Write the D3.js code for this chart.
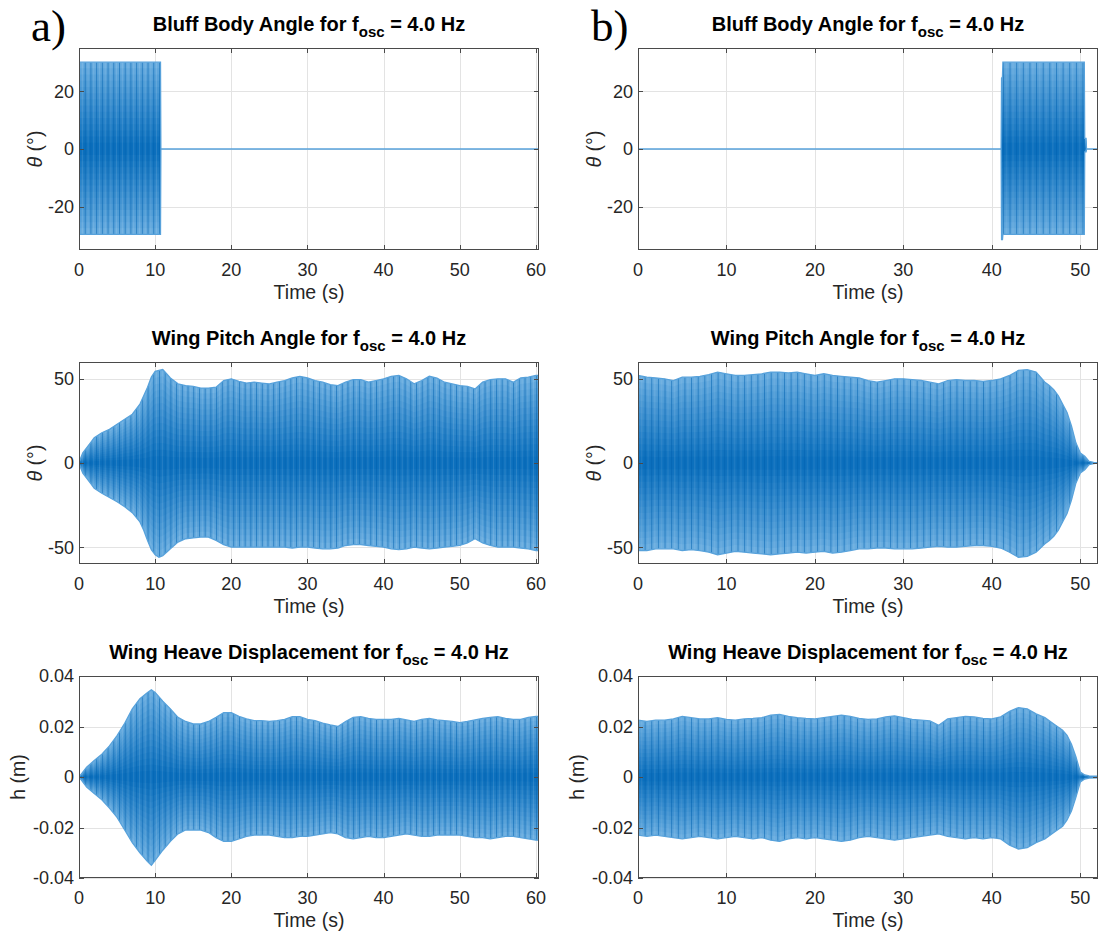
<!DOCTYPE html>
<html>
<head>
<meta charset="utf-8">
<script src="https://cdn.jsdelivr.net/npm/d3@7"></script>
<style>
  body { margin: 0; background: #ffffff; }
  svg { display: block; font-family: "Liberation Sans", Arial, Helvetica, sans-serif; }
</style>
</head>
<body>
<svg id="fig" width="1099" height="940"></svg>
<script>
// ---------------------------------------------------------------
// Response envelopes (upper / lower extremes of the 4.0 Hz signal)
// ---------------------------------------------------------------

// a) bluff body angle, oscillation switched off after ~10.7 s
const bluffTimeA  = [0, 10.7, 10.75, 60.4];
const bluffUpperA = [30.1, 30.1, 0, 0];
const bluffLowerA = [-29.6, -29.6, 0, 0];

// b) bluff body angle, oscillation switched on at ~41 s
const bluffTimeB  = [0, 41.05, 41.1, 41.2, 41.25, 50.45, 50.5, 50.65, 50.7, 52];
const bluffUpperB = [0, 0, 24.5, 25, 30.1, 30.1, 3.7, 3.7, 0, 0];
const bluffLowerB = [0, 0, -31.4, -31.4, -29.6, -29.6, -1, -1, 0, 0];

// a) wing pitch angle (deg)
const pitchTimeA = [0, 0.5, 1, 1.5, 2, 3, 4, 5, 6, 7, 8, 8.5, 9, 9.5, 10, 10.5, 11, 11.5, 12, 13, 14, 15, 16, 17, 18, 19, 20,
  21, 22, 23, 24, 25, 26, 27, 28, 29, 30, 31, 32, 33, 34, 35, 36, 37, 38, 39, 40, 41, 42, 43, 44, 45, 46, 47, 48, 49, 50,
  51, 52, 53, 54, 55, 56, 57, 58, 59, 60, 60.4];
const pitchUpperA = [0.5, 6, 9, 12, 15, 18, 20, 23, 26, 29, 35, 40, 45, 51, 54.5, 55, 55.5, 53, 50.5, 47, 46, 45.5, 44.5, 44.5, 45, 49, 50,
  48.5, 47.5, 48, 47.5, 47, 48, 49, 50.5, 51.5, 50.5, 49, 48, 46.5, 46, 48, 49.5, 49.5, 48, 49, 50, 51.5, 52, 50, 47, 49, 51.5, 50.5, 48, 47, 46,
  45.5, 44, 48, 49.5, 50, 50, 48, 50.5, 51, 52, 52];
const pitchLowerA = [-0.5, -6, -9, -12, -15, -18, -20.5, -23, -26, -29.5, -35, -40, -46, -51.5, -54.5, -56, -55, -53, -51, -47, -45, -44.5, -44, -44, -46, -48.5, -50,
  -50, -50, -50, -50, -50, -50, -50, -50.5, -50, -50, -50.5, -51, -51, -50.5, -49, -48.5, -48.5, -49, -49.5, -50, -51, -51.5, -51, -50, -50.5, -51, -50.5, -50, -49.5, -49,
  -47.5, -45, -47.5, -49, -50, -50, -50, -50.5, -51, -52, -52];

// b) wing pitch angle (deg)
const pitchTimeB = [0, 1, 2, 3, 4, 5, 6, 7, 8, 9, 10, 11, 12, 13, 14, 15, 16, 17, 18, 19, 20, 21, 22, 23, 24, 25, 26,
  27, 28, 29, 30, 31, 32, 33, 34, 35, 36, 37, 38, 39, 40, 41, 42, 43, 44, 45, 46, 46.5, 47, 47.5, 48, 48.5, 49, 49.5,
  50, 50.5, 51, 51.5, 52];
const pitchUpperB = [52, 51, 50.5, 50, 49, 51, 51, 51.5, 52.5, 54, 53, 52, 52, 52.5, 53, 54, 54, 53.5, 54, 53, 52, 53, 52, 51.5, 51, 50.5, 49,
  48, 49, 50, 50, 49.5, 49, 48, 47, 49, 49.5, 49, 49, 48.5, 49, 50, 52, 55, 55.5, 54, 48, 46, 43.5, 40, 35, 30, 22, 12,
  6, 4, 1, 0.3, 0];
const pitchLowerB = [-52, -52, -51, -51, -51, -52, -51.5, -52, -53, -54.5, -53.5, -52.5, -53, -53.5, -54, -54.5, -54, -53.5, -53, -53.5, -53, -52.5, -53.5, -53, -52, -51, -51,
  -50.5, -50.5, -51, -51, -51, -50.5, -50, -49.5, -50, -50, -49.5, -49, -49, -49.5, -50.5, -53, -56, -55.5, -53, -48, -46, -43.5, -40, -35, -30, -22, -12,
  -6, -4, -1, -0.3, 0];

// a) wing heave displacement (m)
const heaveTimeA = [0, 1, 2, 3, 4, 5, 6, 7, 8, 9, 9.5, 10, 11, 12, 13, 14, 15, 16, 17, 18, 19, 20, 21, 22, 23, 24, 25, 26, 27, 28, 29, 30,
  31, 32, 33, 34, 35, 36, 37, 38, 39, 40, 41, 42, 43, 44, 45, 46, 47, 48, 49, 50, 51, 52, 53, 54, 55, 56, 57, 58, 59, 60, 60.4];
const heaveUpperA = [0, 0.0039, 0.0065, 0.009, 0.0123, 0.0164, 0.0213, 0.027, 0.031, 0.0335, 0.0345, 0.0335, 0.030, 0.027, 0.0236, 0.022,
  0.021, 0.021, 0.022, 0.0236, 0.0255, 0.0255, 0.024, 0.023, 0.0223, 0.0223, 0.022, 0.0223, 0.0228, 0.0239, 0.0239, 0.0228,
  0.0223, 0.0213, 0.0206, 0.020, 0.022, 0.0236, 0.0239, 0.0232, 0.0228, 0.0228, 0.0228, 0.0232, 0.0226, 0.022, 0.0228, 0.0232,
  0.0226, 0.0223, 0.022, 0.0215, 0.022, 0.0226, 0.0232, 0.0236, 0.0239, 0.0232, 0.0228, 0.0228, 0.0236, 0.024, 0.024];
const heaveLowerA = [0, -0.004, -0.0065, -0.009, -0.0123, -0.016, -0.021, -0.026, -0.030, -0.0335, -0.035, -0.033, -0.029, -0.0255, -0.0225, -0.021,
  -0.021, -0.021, -0.022, -0.024, -0.0255, -0.0255, -0.0245, -0.0235, -0.023, -0.023, -0.023, -0.0235, -0.024, -0.024, -0.0235, -0.0235,
  -0.023, -0.0225, -0.022, -0.0225, -0.024, -0.0245, -0.024, -0.0235, -0.024, -0.024, -0.0235, -0.023, -0.0225, -0.023, -0.0235, -0.0235,
  -0.023, -0.023, -0.023, -0.023, -0.0235, -0.024, -0.024, -0.0245, -0.024, -0.0235, -0.0235, -0.024, -0.0245, -0.025, -0.025];

// b) wing heave displacement (m)
const heaveTimeB = [0, 1, 2, 3, 4, 5, 6, 7, 8, 9, 10, 11, 12, 13, 14, 15, 16, 17, 18, 19, 20, 21, 22, 23, 24, 25, 26,
  27, 28, 29, 30, 31, 32, 33, 34, 35, 36, 37, 38, 39, 40, 41, 42, 43, 44, 45, 46, 47, 48, 48.5, 49, 49.5,
  50, 50.5, 51, 52];
const heaveUpperB = [0.0225, 0.022, 0.0225, 0.0225, 0.023, 0.024, 0.0235, 0.023, 0.023, 0.0235, 0.0228, 0.0225, 0.023, 0.0232, 0.0235, 0.0245, 0.0248,
  0.024, 0.0235, 0.0232, 0.023, 0.0235, 0.024, 0.0245, 0.024, 0.0232, 0.0228, 0.023, 0.0238, 0.0242, 0.0235, 0.0228, 0.0225, 0.0222,
  0.0205, 0.023, 0.0235, 0.024, 0.0238, 0.0232, 0.023, 0.0238, 0.026, 0.0275, 0.027, 0.025, 0.0235, 0.021, 0.0185, 0.0165, 0.013, 0.008,
  0.002, 0.0008, 0.0004, 0.0003];
const heaveLowerB = [-0.023, -0.0235, -0.023, -0.0235, -0.024, -0.0245, -0.024, -0.0235, -0.024, -0.0245, -0.024, -0.0235, -0.024, -0.0245, -0.024, -0.025, -0.0255,
  -0.0245, -0.024, -0.0245, -0.024, -0.0245, -0.025, -0.0255, -0.025, -0.024, -0.0235, -0.024, -0.0245, -0.025, -0.0245, -0.024, -0.0235, -0.023,
  -0.0225, -0.0235, -0.024, -0.0245, -0.024, -0.0245, -0.024, -0.0245, -0.027, -0.0285, -0.028, -0.026, -0.0245, -0.022, -0.0195, -0.017, -0.0135, -0.008,
  -0.002, -0.0008, -0.0004, -0.0003];

// axis ticks
const timeTicksA  = [0, 10, 20, 30, 40, 50, 60];
const timeTicksB  = [0, 10, 20, 30, 40, 50];
const bluffTicks  = [-20, 0, 20];
const pitchTicks  = [-50, 0, 50];
const heaveTicks  = [-0.04, -0.02, 0, 0.02, 0.04];

// ---------------------------------------------------------------
// Layout
// ---------------------------------------------------------------
const svg = d3.select("#fig");
const plotW = 460, plotH = 202;
const colLeft = [79, 638];
const rowTop = [48, 362, 676];
const textColor = "#262626";

const panels = [
  { c: 0, r: 0, name: "Bluff Body Angle", yl: "theta", yDom: [-35, 35], yTicks: bluffTicks, xDom: [0, 60.4], xTicks: timeTicksA,
    t: bluffTimeA, up: bluffUpperA, lo: bluffLowerA },
  { c: 1, r: 0, name: "Bluff Body Angle", yl: "theta", yDom: [-35, 35], yTicks: bluffTicks, xDom: [0, 52], xTicks: timeTicksB,
    t: bluffTimeB, up: bluffUpperB, lo: bluffLowerB },
  { c: 0, r: 1, name: "Wing Pitch Angle", yl: "theta", yDom: [-60, 60], yTicks: pitchTicks, xDom: [0, 60.4], xTicks: timeTicksA,
    t: pitchTimeA, up: pitchUpperA, lo: pitchLowerA },
  { c: 1, r: 1, name: "Wing Pitch Angle", yl: "theta", yDom: [-60, 60], yTicks: pitchTicks, xDom: [0, 52], xTicks: timeTicksB,
    t: pitchTimeB, up: pitchUpperB, lo: pitchLowerB },
  { c: 0, r: 2, name: "Wing Heave Displacement", yl: "h", yDom: [-0.04, 0.04], yTicks: heaveTicks, xDom: [0, 60.4], xTicks: timeTicksA,
    t: heaveTimeA, up: heaveUpperA, lo: heaveLowerA },
  { c: 1, r: 2, name: "Wing Heave Displacement", yl: "h", yDom: [-0.04, 0.04], yTicks: heaveTicks, xDom: [0, 52], xTicks: timeTicksB,
    t: heaveTimeB, up: heaveUpperB, lo: heaveLowerB }
];

// density shading of the oscillation band: light at the envelope, dark at the centre line
const nBands = 14;
const edgeColor = d3.rgb("#68acdf"), centreColor = d3.rgb("#0b6fbd");
const bands = d3.range(nBands).map(k => {
  const f = 1 - k / nBands;                 // fraction of the envelope
  const s = Math.pow(k / (nBands - 1), 0.9);
  return { f, color: d3.interpolateRgb(edgeColor, centreColor)(s) };
});

const defs = svg.append("defs");

function tickLabel(v) {
  if (v === 0) return "0";
  const s = Math.abs(v) < 1 ? d3.format(".2f")(Math.abs(v)) : String(Math.abs(v));
  return (v < 0 ? "-" : "") + s;
}

panels.forEach((p, idx) => {
  const x0 = colLeft[p.c], y0 = rowTop[p.r];
  const x = d3.scaleLinear().domain(p.xDom).range([0, plotW]);
  const y = d3.scaleLinear().domain(p.yDom).range([plotH, 0]);
  const g = svg.append("g").attr("transform", `translate(${x0},${y0})`);

  // clip region
  defs.append("clipPath").attr("id", `clip${idx}`)
    .append("rect").attr("width", plotW).attr("height", plotH);

  // grid
  const grid = g.append("g").attr("stroke", "#e3e3e3").attr("stroke-width", 1);
  p.xTicks.forEach(v => {
    const xx = Math.round(x(v)) + 0.5;
    grid.append("line").attr("x1", xx).attr("x2", xx).attr("y1", 0).attr("y2", plotH);
  });
  p.yTicks.forEach(v => {
    const yy = Math.round(y(v)) + 0.5;
    grid.append("line").attr("x1", 0).attr("x2", plotW).attr("y1", yy).attr("y2", yy);
  });

  // data band
  const data = g.append("g").attr("clip-path", `url(#clip${idx})`);
  const idxs = d3.range(p.t.length);
  const areaFor = f => d3.area()
    .x(i => x(p.t[i]))
    .y0(i => y(p.lo[i] * f))
    .y1(i => y(p.up[i] * f))(idxs);

  bands.forEach(b => {
    data.append("path").attr("d", areaFor(b.f)).attr("fill", b.color);
  });

  // oscillation striping, confined to the band
  const stripeW = (x(0.75) - x(0));
  const pat = defs.append("pattern").attr("id", `stripes${idx}`)
    .attr("patternUnits", "userSpaceOnUse")
    .attr("width", stripeW).attr("height", 20);
  pat.append("rect").attr("x", 0).attr("width", 1).attr("height", 20)
    .attr("fill", "#0060ae").attr("opacity", 0.55);
  pat.append("rect").attr("x", stripeW * 0.5).attr("width", 0.7).attr("height", 20)
    .attr("fill", "#ffffff").attr("opacity", 0.16);

  defs.append("clipPath").attr("id", `band${idx}`)
    .append("path").attr("d", areaFor(1));
  data.append("rect").attr("width", plotW).attr("height", plotH)
    .attr("fill", `url(#stripes${idx})`)
    .attr("clip-path", `url(#band${idx})`);

  // envelope outline (also draws the flat zero segments)
  data.append("path").attr("d", areaFor(1))
    .attr("fill", "none").attr("stroke", "#58a2db").attr("stroke-width", 1.3);

  // box + inward ticks
  const axisColor = "#4a4a4a";
  g.append("rect").attr("x", 0.5).attr("y", 0.5).attr("width", plotW - 1).attr("height", plotH - 1)
    .attr("fill", "none").attr("stroke", axisColor).attr("stroke-width", 1);
  const tl = 5;
  const ticks = g.append("g").attr("stroke", axisColor).attr("stroke-width", 1);
  p.xTicks.forEach(v => {
    const xx = Math.round(x(v)) + 0.5;
    ticks.append("line").attr("x1", xx).attr("x2", xx).attr("y1", plotH).attr("y2", plotH - tl);
    ticks.append("line").attr("x1", xx).attr("x2", xx).attr("y1", 0).attr("y2", tl);
  });
  p.yTicks.forEach(v => {
    const yy = Math.round(y(v)) + 0.5;
    ticks.append("line").attr("x1", 0).attr("x2", tl).attr("y1", yy).attr("y2", yy);
    ticks.append("line").attr("x1", plotW).attr("x2", plotW - tl).attr("y1", yy).attr("y2", yy);
  });

  // tick labels
  p.xTicks.forEach(v => {
    g.append("text").attr("x", x(v)).attr("y", plotH + 25.5)
      .attr("text-anchor", "middle").attr("font-size", 18).attr("fill", textColor)
      .text(tickLabel(v));
  });
  p.yTicks.forEach(v => {
    g.append("text").attr("x", -5).attr("y", y(v)).attr("dy", "0.36em")
      .attr("text-anchor", "end").attr("font-size", 18).attr("fill", textColor)
      .text(tickLabel(v));
  });

  // x label
  g.append("text").attr("x", plotW / 2).attr("y", plotH + 49)
    .attr("text-anchor", "middle").attr("font-size", 19.5).attr("fill", textColor)
    .text("Time (s)");

  // y label
  const ylx = p.yl === "h" ? -61 : -44;
  const yl = g.append("text")
    .attr("transform", `translate(${ylx},${plotH / 2}) rotate(-90)`)
    .attr("dy", "0.36em").attr("text-anchor", "middle")
    .attr("font-size", 19.5).attr("fill", textColor);
  if (p.yl === "h") {
    yl.text("h (m)");
  } else {
    yl.append("tspan").attr("font-style", "italic").text("θ");
    yl.append("tspan").text(" (°)");
  }

  // title
  const tt = g.append("text").attr("x", plotW / 2).attr("y", -17.5)
    .attr("text-anchor", "middle").attr("font-size", 20).attr("font-weight", "bold").attr("fill", "#000");
  tt.append("tspan").text(`${p.name} for f`);
  tt.append("tspan").attr("font-size", 15).attr("dy", 6).text("osc");
  tt.append("tspan").attr("dy", -6).text(" = 4.0 Hz");
});

// panel letters
const letterFont = "'Liberation Serif', 'Times New Roman', serif";
svg.append("text").attr("x", 31).attr("y", 41)
  .attr("font-family", letterFont).attr("font-size", 45).attr("fill", "#000")
  .text("a)");
svg.append("text").attr("x", 591).attr("y", 41)
  .attr("font-family", letterFont).attr("font-size", 45).attr("fill", "#000")
  .text("b)");
</script>
</body>
</html>
